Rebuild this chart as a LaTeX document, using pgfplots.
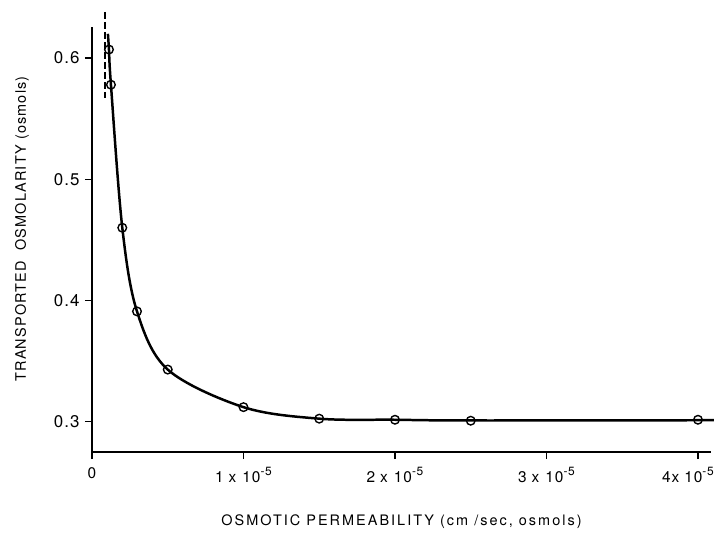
\documentclass[border=0pt]{standalone}
\usepackage{pgfplots}
\pgfplotsset{compat=1.18}
\usepackage{fontspec}
\setmainfont{TeX Gyre Heros}
\newfontfamily\xlab[LetterSpace=14]{TeX Gyre Heros}
\newfontfamily\ylab[LetterSpace=8]{TeX Gyre Heros}
\newfontfamily\tickf[LetterSpace=6]{TeX Gyre Heros}
\newcommand{\sci}[1]{#1\hspace{5bp}x\hspace{6bp}10\raisebox{0.42em}{\fontsize{12}{13}\selectfont -5}}
\newcommand{\scib}[1]{#1x\hspace{5bp}10\raisebox{0.42em}{\fontsize{12}{13}\selectfont -5}\hspace{20bp}\mbox{}}
\begin{document}
\begin{tikzpicture}
\path[use as bounding box] (-92bp,-83bp) rectangle (622bp,452bp);
\begin{axis}[
  at={(0,0)}, anchor=south west,
  scale only axis, width=619bp, height=425bp,
  xmin=0, xmax=4.086e-5, ymin=0.275, ymax=0.6256,
  axis lines=left, axis line style={-, line width=1.7pt},
  tick align=outside, major tick length=7bp,
  tick style={line width=1.2pt, black},
  clip=false,
  scaled x ticks=false,
  xtick={0,1e-5,2e-5,3e-5,4e-5},
  xticklabels={0, \sci{1}, \sci{2}, \sci{3}, \scib{4}},
  ytick={0.3,0.4,0.5,0.6},
  yticklabels={0.3,0.4,0.5,0.6},
  yticklabel style={font=\tickf\fontsize{17}{19}\selectfont, xshift=-2bp},
  xticklabel style={font=\tickf\fontsize{15.5}{16}\selectfont, yshift=-5bp},
  /pgf/number format/assume math mode=true,
  xlabel={OSMOTIC PERMEABILITY (cm /sec, osmols)},
  ylabel={TRANSPORTED\ \ OSMOLARITY (osmols)},
  xlabel style={font=\xlab\fontsize{14.5}{16}\selectfont, at={(axis description cs:0.5,-0.163)}, anchor=center},
  ylabel style={font=\ylab\fontsize{14.5}{16}\selectfont, at={(axis description cs:-0.113,0.525)}, anchor=center},
]
% fitted curve
\addplot[line width=2.5pt, smooth, tension=0.55] coordinates {
 (0.105e-5,0.620) (0.112e-5,0.607) (0.125e-5,0.578) (0.2e-5,0.460)
 (0.297e-5,0.391) (0.5e-5,0.343) (1.0e-5,0.312) (1.5e-5,0.3025)
 (2.0e-5,0.3016) (2.5e-5,0.3010) (4.0e-5,0.3012) (4.086e-5,0.3012)
};
% data points
\addplot[only marks, mark=o, mark size=4.3bp, mark options={fill=white, line width=1.4pt}] coordinates {
 (0.112e-5,0.607) (0.125e-5,0.578) (0.2e-5,0.460) (0.297e-5,0.391)
 (0.5e-5,0.343) (1.0e-5,0.312) (1.5e-5,0.3025) (2.0e-5,0.3016)
 (2.5e-5,0.3008) (4.0e-5,0.3016)
};
% dashed asymptote
\addplot[line width=1.9pt, dash pattern=on 7bp off 3bp] coordinates {
 (0.086e-5,0.638) (0.086e-5,0.567)
};
\end{axis}
\end{tikzpicture}
\end{document}
